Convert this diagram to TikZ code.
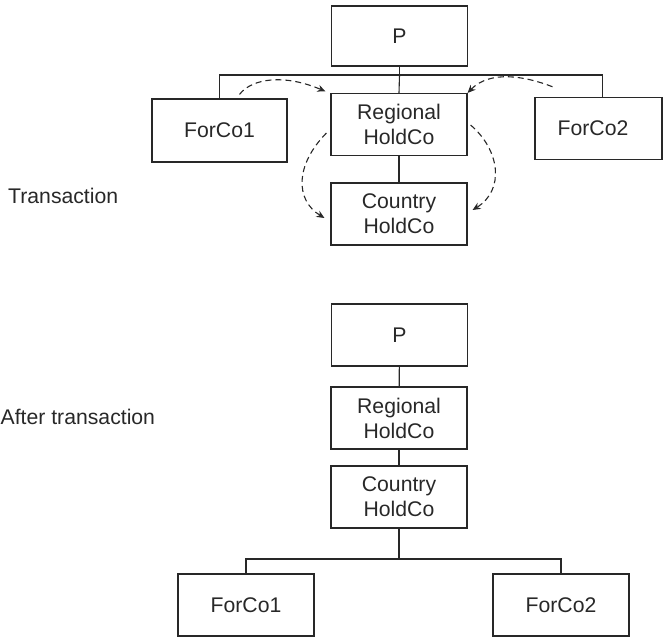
\documentclass[tikz,border=0pt]{standalone}
\usepackage{fontspec}
\setmainfont{Liberation Sans}
\usetikzlibrary{arrows.meta}
\definecolor{ink}{RGB}{40,40,40}
\begin{document}
\begin{tikzpicture}[x=1pt,y=-1pt,
  every node/.style={text=ink, font=\fontsize{21.2}{25}\selectfont},
  entity/.style={draw=ink, line width=1.1pt, rectangle, minimum width=136pt,
    minimum height=62pt, inner sep=0pt, align=center},
  link/.style={draw=ink, line width=1.1pt},
  move/.style={draw=ink, line width=1.1pt, dash pattern=on 6pt off 4pt,
    -{Stealth[length=8pt,width=7pt]}},
  caption/.style={anchor=west, inner sep=0pt}]
\useasboundingbox (0,0) rectangle (663,637);

% ---------- structure during the transaction ----------
\node[caption] (t1) at (8,196) {Transaction};
\node[entity, minimum height=60pt] (p1) at (399.5,36) {P};
\node[entity] (r1) at (399,124.5) {Regional\\HoldCo};
\node[entity] (c1) at (399,214) {Country\\HoldCo};
\node[entity, minimum width=135pt, minimum height=63pt] (fa1) at (219.5,130.5) {ForCo1};
\node[entity, minimum width=127pt] (fb1) at (598.5,128.3) {};
\node (fb1t) at (593,128.3) {ForCo2};

\coordinate (bus1) at (399.5,75);
\draw[link] (p1.south) -- (bus1);
\draw[link] (bus1) -- (r1.north);
\draw[link] (fa1.north) |- (bus1) -| ([xshift=4pt]fb1.north);
\draw[link] (r1) -- (c1);

% dashed moves
\coordinate (m1s) at ([shift={(20,-4)}]fa1.north);
\coordinate (m1e) at ([shift={(-5,-1.5)}]r1.north west);
\draw[move] (m1s) .. controls (252,78) and (285,74) .. (m1e);

\coordinate (m2s) at ([shift={(18,-10)}]fb1.north west);
\draw[move] (m2s) .. controls (525,76) and (490,70) .. (r1.north east);

\coordinate (m3s) at ([shift={(-4,8.5)}]r1.west);
\coordinate (m3e) at ([shift={(-6,4)}]c1.west);
\draw[move] (m3s) .. controls (295,165) and (295,200) .. (m3e);

\coordinate (m4s) at ([shift={(3,0.5)}]r1.east);
\coordinate (m4e) at ([shift={(5,-4)}]c1.east);
\draw[move] (m4s) .. controls (500,150) and (505,190) .. (m4e);

% ---------- structure after the transaction ----------
\node[caption] (t2) at (0.5,417) {After transaction};
\node[entity] (p2) at (399.5,335) {P};
\node[entity] (r2) at (399,418) {Regional\\HoldCo};
\node[entity] (c2) at (399,497) {Country\\HoldCo};
\node[entity] (fa2) at (246,605) {ForCo1};
\node[entity] (fb2) at (561,605) {ForCo2};

\coordinate (bus2) at (399,559);
\draw[link] (p2) -- (r2);
\draw[link] (r2) -- (c2);
\draw[link] (c2.south) -- (bus2);
\draw[link] (fa2.north) |- (bus2) -| (fb2.north);
\end{tikzpicture}
\end{document}
